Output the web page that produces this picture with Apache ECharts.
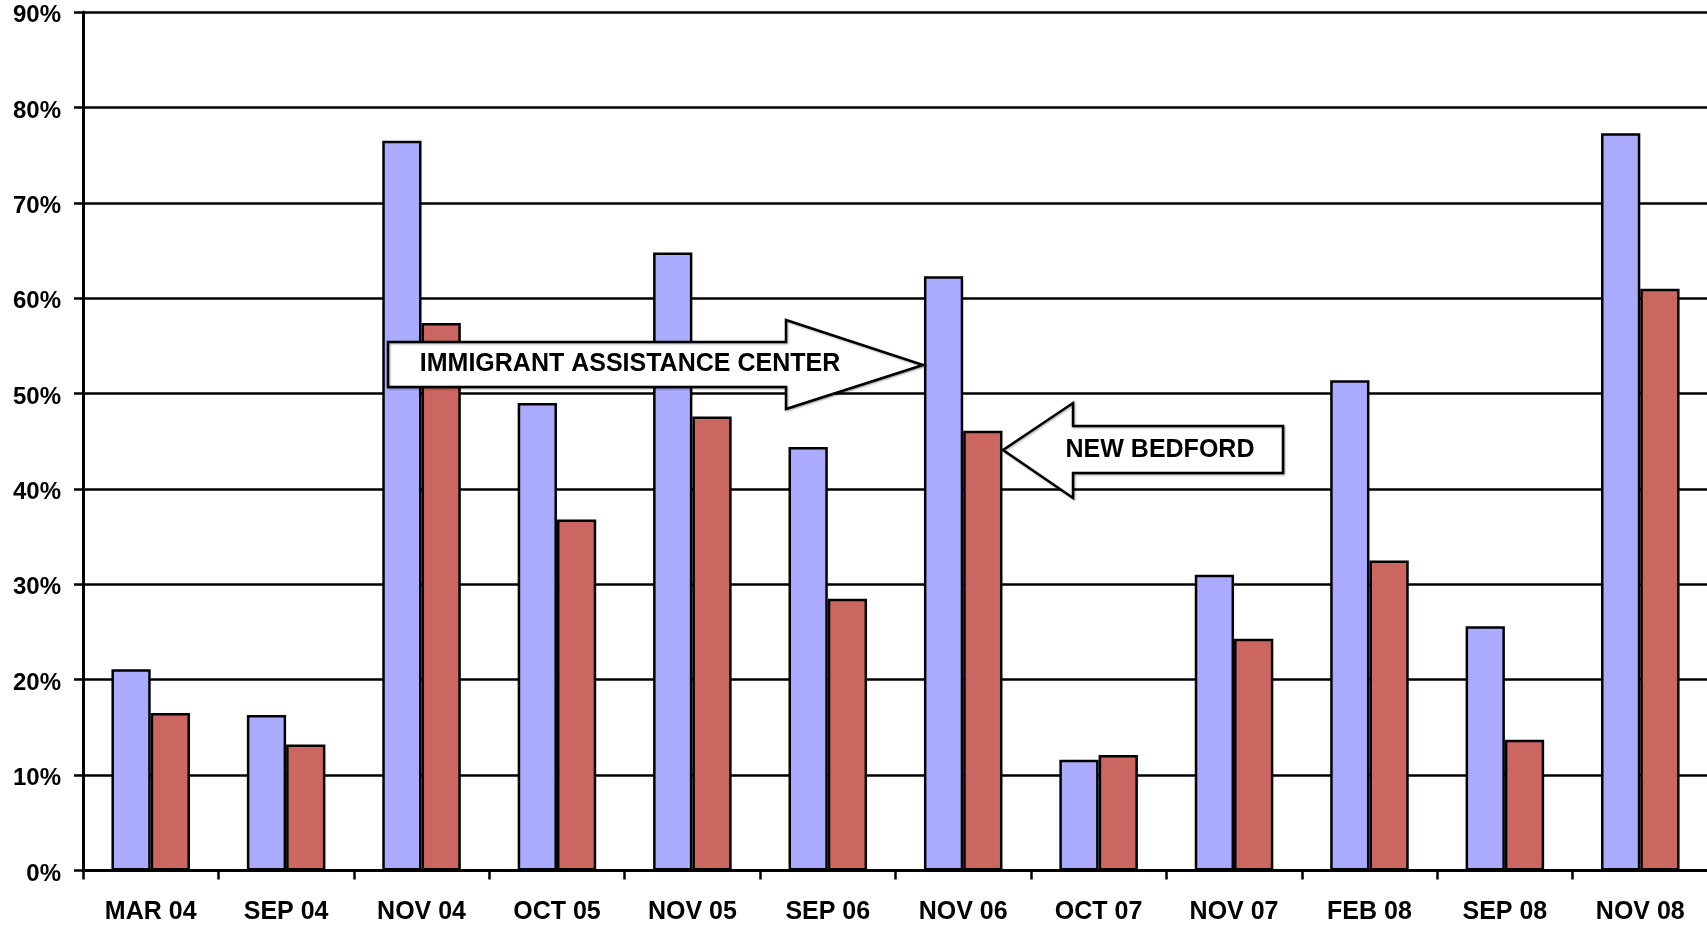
<!DOCTYPE html>
<html>
<head>
<meta charset="utf-8">
<script src="https://cdn.jsdelivr.net/npm/echarts@6/dist/echarts.min.js"></script>
<style>
html,body{margin:0;padding:0;background:#fff;}
#chart{width:1707px;height:925px;}
</style>
</head>
<body>
<div id="chart"></div>
<script>
var categories = ['MAR 04','SEP 04','NOV 04','OCT 05','NOV 05','SEP 06','NOV 06','OCT 07','NOV 07','FEB 08','SEP 08','NOV 08'];
var immigrantCenter = [21.1, 16.3, 76.5, 49.0, 64.8, 44.4, 62.3, 11.6, 31.0, 51.4, 25.6, 77.3];
var newBedford = [16.5, 13.2, 57.4, 36.8, 47.6, 28.5, 46.1, 12.1, 24.3, 32.5, 13.7, 61.0];
var yTicks = [0, 10, 20, 30, 40, 50, 60, 70, 80, 90];
var arrowLabels = ['IMMIGRANT ASSISTANCE CENTER', 'NEW BEDFORD'];

var FONT = '"Liberation Sans", Arial, sans-serif';
var chart = echarts.init(document.getElementById('chart'), null, {renderer: 'canvas'});

chart.setOption({
  animation: false,
  backgroundColor: '#ffffff',
  grid: {left: 83, right: -1, top: 12, bottom: 54.5, containLabel: false, outerBoundsMode: 'none'},
  xAxis: {
    type: 'category',
    data: categories,
    axisLine: {show: true, lineStyle: {color: '#000', width: 3}},
    axisTick: {show: true, length: 9, lineStyle: {color: '#000', width: 2.5}},
    axisLabel: {color: '#000', fontFamily: FONT, fontWeight: 'bold', fontSize: 25, margin: 29},
    splitLine: {show: false}
  },
  yAxis: {
    type: 'value',
    min: yTicks[0],
    max: yTicks[yTicks.length - 1],
    interval: yTicks[1] - yTicks[0],
    axisLine: {show: true, lineStyle: {color: '#000', width: 3}},
    axisTick: {show: true, length: 9, lineStyle: {color: '#000', width: 2.5}},
    axisLabel: {color: '#000', fontFamily: FONT, fontWeight: 'bold', fontSize: 24, margin: 22,
      formatter: function (v) { return '{v|' + v + '%}'; },
      rich: {v: {color: '#000', fontFamily: FONT, fontWeight: 'bold', fontSize: 24, lineHeight: 24, padding: [7, 0, 0, 0]}}},
    splitLine: {show: true, lineStyle: {color: '#000', width: 2.5}}
  },
  series: [
    {
      name: 'Immigrant Assistance Center',
      type: 'bar',
      data: immigrantCenter,
      barGap: '0%',
      barCategoryGap: '42%',
      itemStyle: {color: '#AAAAFF', borderColor: '#000', borderWidth: 2.5}
    },
    {
      name: 'New Bedford',
      type: 'bar',
      data: newBedford,
      itemStyle: {color: '#CC6660', borderColor: '#000', borderWidth: 2.5}
    }
  ],
  graphic: [
    {
      type: 'polygon', z: 100,
      shape: {points: [[388,342],[786,342],[786,320],[923,365],[786,409],[786,387],[388,387]]},
      style: {fill: '#fff', stroke: '#000', lineWidth: 2.5, shadowBlur: 2, shadowColor: 'rgba(0,0,0,0.35)', shadowOffsetX: 1, shadowOffsetY: 1}
    },
    {
      type: 'text', z: 101,
      x: 630, y: 364,
      style: {text: arrowLabels[0], fill: '#000', font: 'bold 25px ' + FONT, textAlign: 'center', textVerticalAlign: 'middle'}
    },
    {
      type: 'polygon', z: 100,
      shape: {points: [[1003,450],[1073,403],[1073,426],[1283,426],[1283,473],[1073,473],[1073,498]]},
      style: {fill: '#fff', stroke: '#000', lineWidth: 2.5, shadowBlur: 2, shadowColor: 'rgba(0,0,0,0.35)', shadowOffsetX: 1, shadowOffsetY: 1}
    },
    {
      type: 'text', z: 101,
      x: 1160, y: 450,
      style: {text: arrowLabels[1], fill: '#000', font: 'bold 25px ' + FONT, textAlign: 'center', textVerticalAlign: 'middle'}
    }
  ]
});
</script>
</body>
</html>
